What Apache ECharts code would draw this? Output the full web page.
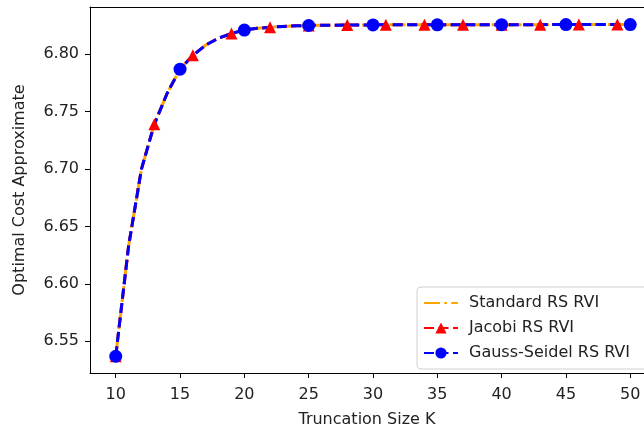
<!DOCTYPE html>
<html><head><meta charset="utf-8">
<script src="https://cdn.jsdelivr.net/npm/echarts@6/dist/echarts.min.js"></script>
<style>html,body{margin:0;padding:0;background:#fff}#c{width:644px;height:433px}</style>
</head><body><div id="c"></div>
<script>
var truncationK = [10,11,12,13,14,15,16,17,18,19,20,21,22,23,24,25,26,27,28,29,30,31,32,33,34,35,36,37,38,39,40,41,42,43,44,45,46,47,48,49,50];
var standardCost = [6.537,6.633,6.700,6.739,6.766,6.787,6.799,6.808,6.814,6.818,6.821,6.8225,6.8235,6.8242,6.8247,6.8250,6.8252,6.8253,6.8254,6.8255,6.8255,6.8256,6.8256,6.8256,6.8256,6.8256,6.8257,6.8257,6.8257,6.8257,6.8257,6.8257,6.8257,6.8257,6.8258,6.8258,6.8258,6.8258,6.8258,6.8258,6.8258];
var jacobiCost = standardCost.slice();
var gaussSeidelCost = standardCost.slice();
var jacobiMarkerK = [10,13,16,19,22,25,28,31,34,37,40,43,46,49];
var gaussMarkerK = [10,15,20,25,30,35,40,45,50];
var xTicks = [10,15,20,25,30,35,40,45,50];
var yTicks = [6.55,6.60,6.65,6.70,6.75,6.80];

function build(vals, marks, size) {
  return truncationK.map(function (k, i) {
    var on = marks.indexOf(k) >= 0;
    return { value: [k, vals[i]], symbolSize: on ? size : 0 };
  });
}
var font = 'DejaVu Sans';
var txt = '#222';
var chart = echarts.init(document.getElementById('c'), null, {renderer: 'canvas'});
chart.setOption({
  animation: false,
  backgroundColor: '#fff',
  textStyle: {fontFamily: font},
  grid: {left: 90, top: 7, right: 0, height: 370, show: false},
  legend: {
    orient: 'vertical', left: 417, top: 287,
    padding: [8, 24, 8, 6], itemGap: 9, itemWidth: 34, itemHeight: 14,
    backgroundColor: 'rgba(255,255,255,0.8)', borderColor: '#d0d0d0', borderWidth: 1, borderRadius: 4,
    textStyle: {fontFamily: font, fontSize: 16, color: txt, lineHeight: 16, padding: [0,0,0,6]},
    data: [{name: 'Standard RS RVI', itemStyle: {opacity: 0}}, 'Jacobi RS RVI', 'Gauss-Seidel RS RVI']
  },
  xAxis: [{
    type: 'value', min: 8, max: 51.07,
    name: 'Truncation Size K', nameLocation: 'middle', nameGap: 39,
    nameTextStyle: {fontFamily: font, fontSize: 16, color: txt},
    axisLine: {show: true, onZero: false, lineStyle: {color: '#000', width: 1}},
    axisTick: {show: true, length: 5, lineStyle: {color: '#000'}, customValues: xTicks},
    axisLabel: {fontFamily: font, fontSize: 16, color: txt, margin: 14, customValues: xTicks},
    splitLine: {show: false}
  }, {
    type: 'value', min: 8, max: 51.07, position: 'top',
    axisLine: {show: true, onZero: false, lineStyle: {color: '#000', width: 1}},
    axisTick: {show: false}, axisLabel: {show: false}, splitLine: {show: false}
  }],
  yAxis: {
    type: 'value', min: 6.5224, max: 6.8411,
    name: 'Optimal Cost Approximate', nameLocation: 'middle', nameGap: 62, nameRotate: 90,
    nameTextStyle: {fontFamily: font, fontSize: 16, color: txt},
    axisLine: {show: true, onZero: false, lineStyle: {color: '#000', width: 1}},
    axisTick: {show: true, length: 5, lineStyle: {color: '#000'}, customValues: yTicks},
    axisLabel: {fontFamily: font, fontSize: 16, color: txt, margin: 11, customValues: yTicks,
      formatter: function (v) { return v.toFixed(2); }},
    splitLine: {show: false}
  },
  series: [
    {name: 'Standard RS RVI', type: 'line', symbol: 'none', showSymbol: false,
     data: truncationK.map(function (k, i) { return [k, standardCost[i]]; }),
     itemStyle: {color: '#FFA500'},
     lineStyle: {color: '#FFA500', width: 3, type: [16, 4.3, 2.7, 4.3]}},
    {name: 'Jacobi RS RVI', type: 'line', symbol: 'triangle', showAllSymbol: true, symbolSize: 12,
     data: build(jacobiCost, jacobiMarkerK, 12),
     itemStyle: {color: '#FF0000'},
     lineStyle: {color: '#FF0000', width: 3, type: [10, 4.5]}},
    {name: 'Gauss-Seidel RS RVI', type: 'line', symbol: 'circle', showAllSymbol: true, symbolSize: 13,
     data: build(gaussSeidelCost, gaussMarkerK, 13),
     itemStyle: {color: '#0000FF'},
     lineStyle: {color: '#0000FF', width: 3, type: [10, 4.5]}}
  ]
});
</script></body></html>
